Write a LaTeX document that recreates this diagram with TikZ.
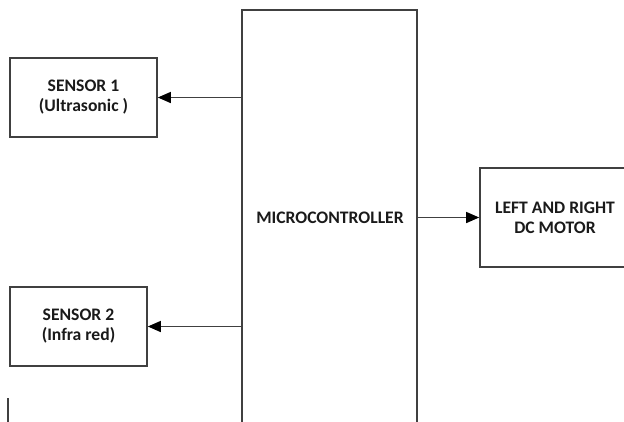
\documentclass[tikz,border=0pt]{standalone}
\usepackage{fontspec}
\setmainfont{Carlito}
\usetikzlibrary{arrows.meta}
\definecolor{edge}{HTML}{404040}
\definecolor{ink}{HTML}{1A1A1A}
\tikzset{
  blk/.style={draw=edge, line width=1.6pt, fill=white, inner sep=0pt, align=center,
    font=\fontsize{17.6}{20}\selectfont\bfseries, text=ink},
  lbl/.style={inner sep=0pt, align=center, font=\fontsize{17.6}{20}\selectfont\bfseries, text=ink},
  arr/.style={draw=edge, line width=1.3pt, -{Triangle[length=13pt,width=11pt,color=black]}},
  stub/.style={draw=edge, line width=1.3pt}
}
\begin{document}
\begin{tikzpicture}[x=1pt,y=-1pt]
\useasboundingbox (0,0) rectangle (624,421);
\node[blk, minimum width=175pt, minimum height=440pt] (mc) at (329.5,230) {};
\node[lbl] (mctext) at (330,218) {MICROCONTROLLER};
\node[blk, minimum width=147pt, minimum height=79pt] (s1) at (83.5,97.5) {SENSOR 1\\(Ultrasonic )};
\node[blk, minimum width=137pt, minimum height=79pt] (s2) at (78.5,326.5) {SENSOR 2\\(Infra red)};
\node[blk, minimum width=150pt, minimum height=99pt] (motor) at (555,217.5) {LEFT AND RIGHT\\DC MOTOR};
\draw[arr] (mc.west |- s1.east) -- (s1.east);
\draw[arr] (mc.west |- s2.east) -- (s2.east);
\draw[arr] (mc.east |- motor.west) -- (motor.west);
\coordinate (st) at (8,398);
\coordinate (sb) at (8,430);
\draw[stub] (st) -- (sb);
\end{tikzpicture}
\end{document}
